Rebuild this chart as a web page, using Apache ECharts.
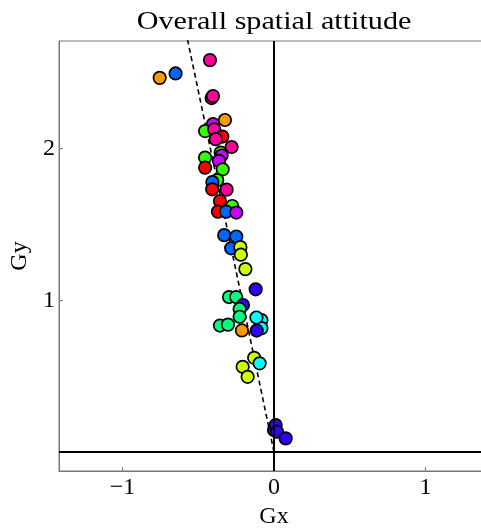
<!DOCTYPE html>
<html>
<head>
<meta charset="utf-8">
<script src="https://cdn.jsdelivr.net/npm/echarts@6/dist/echarts.min.js"></script>
<style>
  html, body { margin: 0; padding: 0; background: #fff; }
  #chart { width: 481px; height: 530px; }
</style>
</head>
<body>
<div id="chart"></div>
<script>
// Per-session attitude vectors (Gx, Gy) and their colour group
const gx = [-0.755, -0.650, -0.423, -0.412, -0.403, -0.324, -0.403, -0.455, -0.395, -0.341,
            -0.385, -0.280, -0.352, -0.455, -0.346, -0.364, -0.455, -0.339, -0.375, -0.407,
            -0.408, -0.313, -0.357, -0.276, -0.370, -0.316, -0.249, -0.329, -0.249, -0.283,
            -0.222, -0.219, -0.189, -0.121, -0.297, -0.250, -0.205, -0.227, -0.227, -0.083,
            -0.083, -0.116, -0.357, -0.304, -0.212, -0.114, -0.131, -0.095, -0.207, -0.174,
             0.000, 0.011, 0.020, 0.077];
const gy = [2.467, 2.496, 2.584, 2.334, 2.347, 2.189, 2.162, 2.116, 2.127, 2.080,
            2.063, 2.011, 1.974, 1.941, 1.955, 1.920, 1.875, 1.864, 1.793, 1.780,
            1.732, 1.730, 1.655, 1.622, 1.585, 1.585, 1.579, 1.430, 1.421, 1.343,
            1.351, 1.301, 1.206, 1.073, 1.022, 1.022, 0.969, 0.943, 0.892, 0.870,
            0.817, 0.887, 0.834, 0.840, 0.802, 0.801, 0.621, 0.585, 0.562, 0.496,
            0.145, 0.178, 0.134, 0.090];
const group = ['orange', 'blue', 'pink', 'pink', 'pink', 'orange', 'purple', 'green', 'pink', 'red',
               'pink', 'pink', 'green', 'green', 'purple', 'purple', 'red', 'green', 'green', 'blue',
               'red', 'pink', 'red', 'green', 'red', 'blue', 'purple', 'blue', 'blue', 'blue',
               'lime', 'lime', 'lime', 'indigo', 'mint', 'mint', 'indigo', 'mint', 'mint', 'cyan',
               'cyan', 'cyan', 'mint', 'mint', 'orange', 'indigo', 'lime', 'cyan', 'lime', 'lime',
               'indigo', 'indigo', 'indigo', 'indigo'];

// Linear trend through the origin: Gx = fitSlope * Gy
const fitSlope = -0.21;
const fitGy = [0, 2.9];

const xTicks = [-1, 0, 1];
const yTicks = [1, 2];

const palette = {
  red: '#ff0000', orange: '#ff9900', lime: '#ccff00', green: '#33ff00',
  mint: '#00ff80', cyan: '#00ffff', blue: '#0066ff', indigo: '#3300ff',
  purple: '#cc00ff', pink: '#ff0099'
};

const font = '"Liberation Serif", "DejaVu Serif", serif';
const fmt = v => (v < 0 ? '\u2212' + Math.abs(v) : String(v));

const points = gx.map((x, i) => ({
  value: [x, gy[i]],
  itemStyle: { color: palette[group[i]] }
}));
const fitLine = fitGy.map(y => [fitSlope * y, y]);

const chart = echarts.init(document.getElementById('chart'), null, { renderer: 'canvas' });
chart.setOption({
  animation: false,
  backgroundColor: '#fff',
  graphic: [{
    type: 'text',
    x: 274, y: 9,
    scaleX: 1.16,
    style: {
      text: 'Overall spatial attitude',
      font: '26px ' + font,
      fill: '#000',
      align: 'center',
      verticalAlign: 'top'
    }
  }],
  grid: {
    left: 59, top: 41, width: 430, height: 430,
    outerBoundsMode: 'none', containLabel: false,
    show: true, borderColor: '#777', borderWidth: 1, backgroundColor: 'transparent'
  },
  xAxis: {
    type: 'value', min: -1.42, max: 1.42,
    name: 'Gx', nameLocation: 'middle', nameGap: 34,
    nameTextStyle: { fontFamily: font, fontSize: 24, color: '#000' },
    axisLine: { onZero: false, show: true, lineStyle: { color: '#777', width: 1 } },
    axisTick: { show: true, inside: true, length: 4, customValues: xTicks, lineStyle: { color: '#777' } },
    axisLabel: { customValues: xTicks, formatter: fmt, margin: 5,
                 fontFamily: font, fontSize: 24, color: '#000' },
    splitLine: { show: false }
  },
  yAxis: {
    type: 'value', min: -0.125, max: 2.71,
    name: 'Gy', nameLocation: 'middle', nameGap: 25, nameRotate: 90,
    nameTextStyle: { fontFamily: font, fontSize: 24, color: '#000' },
    axisLine: { onZero: false, show: true, lineStyle: { color: '#777', width: 1 } },
    axisTick: { show: true, inside: true, length: 4, customValues: yTicks, lineStyle: { color: '#777' } },
    axisLabel: { customValues: yTicks, formatter: fmt, margin: 4,
                 fontFamily: font, fontSize: 24, color: '#000' },
    splitLine: { show: false }
  },
  series: [
    {
      type: 'line',
      data: fitLine,
      symbol: 'none',
      clip: true,
      lineStyle: { color: '#000', width: 1.6, type: [5, 3.5] },
      markLine: {
        silent: true, symbol: 'none', label: { show: false },
        lineStyle: { color: '#000', width: 2, type: 'solid' },
        data: [{ xAxis: 0 }, { yAxis: 0 }]
      },
      z: 1
    },
    {
      type: 'scatter',
      data: points,
      symbol: 'circle',
      symbolSize: 12.5,
      itemStyle: { borderColor: '#000', borderWidth: 1.7, opacity: 1 },
      z: 3
    }
  ]
});
</script>
</body>
</html>
